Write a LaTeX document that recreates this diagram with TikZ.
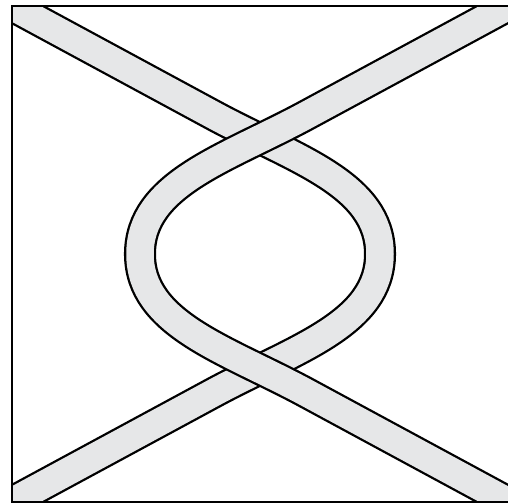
\documentclass[tikz,border=0pt]{standalone}
\usepackage{tikz}
\definecolor{bandgray}{RGB}{230,231,232}
\begin{document}
\begin{tikzpicture}[x=0.02cm,y=-0.02cm]
\tikzstyle{band}=[line width=1.3pt,double=bandgray,double distance=0.55cm]
\tikzstyle{frame}=[line width=1.6pt]
\useasboundingbox (0,0) rectangle (508,504);
% corners of the frame
\coordinate (tl) at (12,6);
\coordinate (tr) at (508,6);
\coordinate (bl) at (12,502);
\coordinate (br) at (508,502);
% the two lobes
\coordinate (lobeR) at (380,254);
\coordinate (lobeL) at (140,254);
\begin{scope}
\clip (tl) rectangle (br);
% under strand
\draw[band] (-18,-10) -- (215,116) .. controls (295,159) and (380,184) .. (lobeR)
  .. controls (380,324) and (295,349) .. (215,392) -- (-18,518);
% over strand
\draw[band] (538,-10) -- (305,116) .. controls (225,159) and (140,184) .. (lobeL)
  .. controls (140,324) and (225,349) .. (305,392) -- (538,518);
\end{scope}
\draw[frame] (tr) -- (tl) -- (bl) -- (br);
\end{tikzpicture}
\end{document}
